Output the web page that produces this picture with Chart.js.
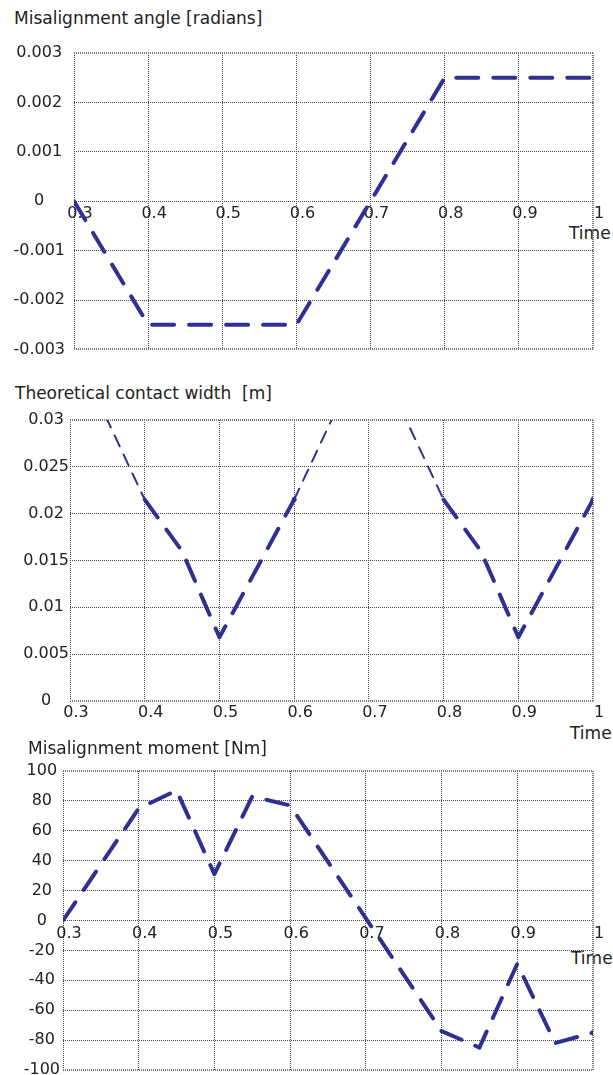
<!DOCTYPE html>
<html>
<head>
<meta charset="utf-8">
<script src="https://cdn.jsdelivr.net/npm/chart.js@4"></script>
<style>
  html, body { margin: 0; padding: 0; background: #fff; overflow: hidden; }
  body { width: 613px; height: 1075px; position: relative; font-family: "DejaVu Sans", sans-serif; color: #222; }
  .box { position: absolute; left: 0; width: 613px; }
  .lbl { position: absolute; font-size: 17px; line-height: 20px; white-space: pre; }
</style>
</head>
<body>
<div class="lbl" style="left:14px; top:8px;">Misalignment angle [radians]</div>
<div class="lbl" style="left:569px; top:223px;">Time</div>
<div class="box" style="top:30px; height:338px;"><canvas id="angleChart"></canvas></div>

<div class="lbl" style="left:15px; top:383px;">Theoretical contact width  [m]</div>
<div class="lbl" style="left:570px; top:723px;">Time</div>
<div class="box" style="top:400px; height:340px;"><canvas id="widthChart"></canvas></div>

<div class="lbl" style="left:28px; top:738px;">Misalignment moment [Nm]</div>
<div class="lbl" style="left:571px; top:948px;">Time</div>
<div class="box" style="top:751px; height:332px;"><canvas id="momentChart"></canvas></div>

<script>
// misalignment angle
const angleTime = [0.3, 0.4, 0.6, 0.8, 1.0];
const angleValues = [0, -0.0025, -0.0025, 0.0025, 0.0025];

// contact width: thick part and thin (clipped) part
const widthThickTime = [0.4, 0.45, 0.5, 0.6, 0.7, 0.8, 0.85, 0.9, 1.0];
const widthThickValues = [0.0215, 0.016, 0.0068, 0.0215, null, 0.0215, 0.016, 0.0068, 0.0215];
const widthThinTime = [0.3, 0.4, 0.5, 0.6, 0.7, 0.8];
const widthThinValues = [0.0385, 0.0215, null, 0.0215, 0.0385, 0.0215];

// misalignment moment
const momentTime = [0.3, 0.4, 0.45, 0.5, 0.55, 0.6, 0.8, 0.85, 0.9, 0.95, 1.0];
const momentValues = [0, 75, 87, 31, 83, 77, -74, -85, -29, -82, -75];

const lineColor = '#2e3192';
const gridColor = '#444';
const edgeColor = '#777';
const tickFont = { family: 'DejaVu Sans', size: 16 };

const toPoints = (xs, ys) => xs.map((x, i) => ({ x: x, y: ys[i] }));

function thickSet(points, dots) {
    return {
        data: points,
        borderColor: lineColor,
        backgroundColor: lineColor,
        borderWidth: 4,
        borderDash: [22, 15],
        borderCapStyle: 'round',
        borderJoinStyle: 'round',
        pointRadius: dots || 0,
        pointBorderWidth: 0,
        spanGaps: false,
        tension: 0
    };
}

// outer box lines a bit heavier, like the original
function gridOpts(edges) {
    const isEdge = c => c.tick && edges.some(e => Math.abs(c.tick.value - e) < 1e-9);
    return {
        color: c => isEdge(c) ? edgeColor : gridColor,
        lineWidth: c => isEdge(c) ? 2 : 1,
        drawTicks: false
    };
}

function xScale(position, pad) {
    return {
        type: 'linear',
        position: position,
        min: 0.3,
        max: 1.0,
        grid: gridOpts([1.0]),
        border: { display: false, dash: [1, 1] },
        ticks: {
            stepSize: 0.1,
            padding: pad,
            labelOffset: 6,
            maxRotation: 0,
            autoSkip: false,
            color: '#222',
            font: tickFont,
            callback: v => String(+v.toFixed(1))
        }
    };
}

function yScale(min, max, step, width, pad, digits) {
    return {
        type: 'linear',
        min: min,
        max: max,
        grid: gridOpts([min, max]),
        border: { display: false, dash: [1, 1] },
        ticks: {
            stepSize: step,
            padding: pad,
            crossAlign: 'center',
            autoSkip: false,
            color: '#222',
            font: tickFont,
            callback: v => String(+v.toFixed(digits))
        },
        afterFit: scale => { scale.width = width; }
    };
}

const baseOptions = {
    responsive: true,
    maintainAspectRatio: false,
    animation: false,
    events: [],
    plugins: { legend: { display: false }, tooltip: { enabled: false }, title: { display: false } }
};

// chart 1
const angleX = xScale({ y: 0 }, 3);
angleX.afterFit = scale => { scale.height = 0; };
new Chart(document.getElementById('angleChart'), {
    type: 'line',
    data: { datasets: [thickSet(toPoints(angleTime, angleValues))] },
    options: {
        ...baseOptions,
        layout: { padding: { top: 23, right: 20, bottom: 12, left: 0 } },
        scales: {
            x: angleX,
            y: yScale(-0.003, 0.003, 0.001, 74, 9, 3)
        }
    }
});

// chart 2
const widthX = xScale('bottom', 2);
widthX.afterFit = scale => { scale.height = 30; };
const thickDots = widthThickTime.map((t, i) => (i === 3 || i === 8) ? 2.5 : 0);
new Chart(document.getElementById('widthChart'), {
    type: 'line',
    data: {
        datasets: [
            {
                data: toPoints(widthThinTime, widthThinValues),
                borderColor: lineColor,
                borderWidth: 2,
                borderDash: [12, 9],
                borderCapStyle: 'round',
                pointRadius: 0,
                spanGaps: false,
                tension: 0
            },
            thickSet(toPoints(widthThickTime, widthThickValues), thickDots)
        ]
    },
    options: {
        ...baseOptions,
        layout: { padding: { top: 20, right: 20, bottom: 9, left: 0 } },
        scales: {
            x: widthX,
            y: yScale(0, 0.03, 0.005, 70, 1, 3)
        }
    }
});

// chart 3
const momentX = xScale({ y: 0 }, 4);
momentX.afterFit = scale => { scale.height = 0; };
const momentDots = momentTime.map((t, i) => i === momentTime.length - 1 ? 2.5 : 0);
new Chart(document.getElementById('momentChart'), {
    type: 'line',
    data: { datasets: [thickSet(toPoints(momentTime, momentValues), momentDots)] },
    options: {
        ...baseOptions,
        layout: { padding: { top: 20, right: 20, bottom: 13, left: 0 } },
        scales: {
            x: momentX,
            y: yScale(-100, 100, 20, 63, 3, 0)
        }
    }
});
</script>
</body>
</html>
